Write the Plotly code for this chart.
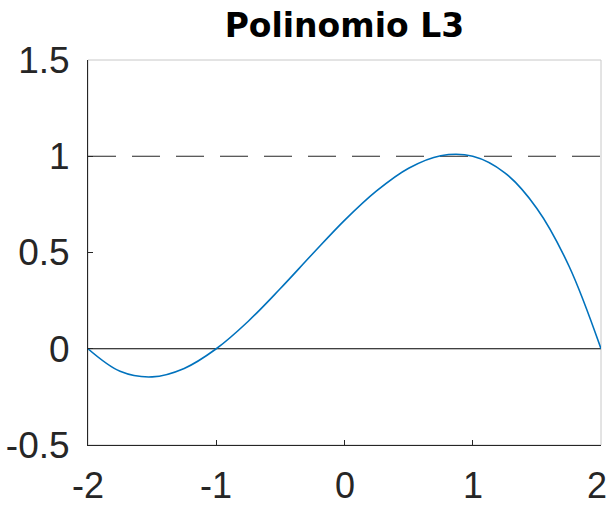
import plotly.graph_objects as go

# Values
x_vals = [-2.0, -1.75, -1.5, -1.25, -1.0, -0.75, -0.5, -0.25, 0.0,
          0.25, 0.5, 0.75, 1.0, 1.25, 1.5, 1.75, 2.0]
y_vals = [0.0, -0.117, -0.146, -0.102, 0.0, 0.143, 0.313, 0.492, 0.667,
          0.820, 0.938, 1.003, 1.0, 0.914, 0.729, 0.430, 0.0]
x_ticks = [-2, -1, 0, 1, 2]
x_tick_text = ["-2", "-1", "0", "1", "2"]
y_ticks = [-0.5, 0, 0.5, 1, 1.5]
y_tick_text = ["-0.5", "0", "0.5", "1", "1.5"]
ref_zero = 0
ref_one = 1

FONT = "Liberation Sans, Arial"
TICK_SIZE = 37
XTICK_SIZE = 36
TICK_COLOR = "#262626"

fig = go.Figure()
fig.add_trace(go.Scatter(x=[x_ticks[0], x_ticks[-1]], y=[ref_zero, ref_zero], mode="lines",
                         line=dict(color="black", width=1), showlegend=False))
fig.add_trace(go.Scatter(x=[x_ticks[0], x_ticks[-1]], y=[ref_one, ref_one], mode="lines",
                         line=dict(color="#262626", width=1.2, dash="28px,16px"), showlegend=False))
fig.add_trace(go.Scatter(x=x_vals, y=y_vals, mode="lines", line_shape="spline",
                         line=dict(color="#0072BD", width=1.6), showlegend=False))

# x tick labels as annotations so the last one stays inside the page
annotations = []
for i, (t, txt) in enumerate(zip(x_ticks, x_tick_text)):
    last = i == len(x_ticks) - 1
    annotations.append(dict(
        x=t, xref="x", y=0, yref="paper", text=txt, showarrow=False,
        xanchor="right" if last else "center", yanchor="top",
        xshift=7 if last else 0, yshift=-19, borderpad=0,
        font=dict(family=FONT, size=XTICK_SIZE, color=TICK_COLOR)))

fig.update_layout(
    width=609, height=505,
    margin=dict(l=88, r=8, t=60, b=60, autoexpand=False),
    paper_bgcolor="white", plot_bgcolor="white",
    title=dict(text="<b>Polinomio L3</b>", x=0.5655, xanchor="center", y=0.95, yanchor="middle",
               font=dict(family="DejaVu Sans", size=33, color="black")),
    font=dict(family=FONT, size=TICK_SIZE, color=TICK_COLOR),
    annotations=annotations,
    shapes=[dict(type="rect", xref="paper", yref="paper", x0=0, y0=0, x1=1, y1=1,
                 line=dict(color="#c8c8c8", width=1), layer="below")],
)
fig.update_xaxes(range=[-2, 2], tickvals=x_ticks, showticklabels=False,
                 showgrid=False, zeroline=False, showline=True, linecolor="#262626", linewidth=1,
                 ticks="inside", ticklen=5, tickcolor="#262626", mirror=False, automargin=False)
fig.update_yaxes(range=[-0.5, 1.5], tickvals=y_ticks, ticktext=y_tick_text,
                 showgrid=False, zeroline=False, showline=True, linecolor="#262626", linewidth=1,
                 ticks="inside", ticklen=5, tickcolor="#262626", mirror=False, automargin=False,
                 ticklabelstandoff=10, ticklabeloverflow="allow")

fig.write_html("out.html")
